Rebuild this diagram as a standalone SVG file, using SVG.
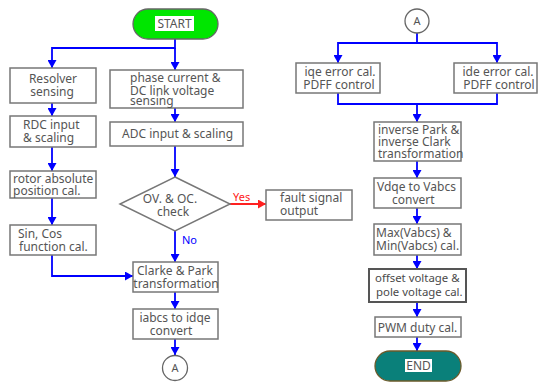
<svg xmlns="http://www.w3.org/2000/svg" width="538" height="382" viewBox="0 0 538 382">
<defs>
<style>
.box{fill:#fff;stroke:#777;stroke-width:1.5}
.t{font-family:"Noto Sans","Noto Sans CJK KR",sans-serif;font-size:12px;fill:#555}
.c{text-anchor:middle}
.ln{fill:none;stroke:#0000ff;stroke-width:1.8}
.red{fill:none;stroke:#ff2020;stroke-width:1.8}
</style>
<marker id="ab" markerWidth="8" markerHeight="9" refX="8" refY="4.5" orient="auto" markerUnits="userSpaceOnUse"><path d="M0,0 L8,4.5 L0,9 z" fill="#0000ff"/></marker>
<marker id="ar" markerWidth="8" markerHeight="9" refX="8" refY="4.5" orient="auto" markerUnits="userSpaceOnUse"><path d="M0,0 L8,4.5 L0,9 z" fill="#ff2020"/></marker>
</defs>
<rect width="538" height="382" fill="#fff"/>
<g id="connectors">
<path class="ln" d="M175,39 V48 H52 V68" marker-end="url(#ab)"/>
<path class="ln" d="M175,48 V70" marker-end="url(#ab)"/>
<path class="ln" d="M52,103 V116" marker-end="url(#ab)"/>
<path class="ln" d="M52,147 V171" marker-end="url(#ab)"/>
<path class="ln" d="M52,198 V225" marker-end="url(#ab)"/>
<path class="ln" d="M175,108 V122" marker-end="url(#ab)"/>
<path class="ln" d="M175,146 V177" marker-end="url(#ab)"/>
<path class="ln" d="M175,231 V262" marker-end="url(#ab)"/>
<path class="ln" d="M52,255 V276 H133" marker-end="url(#ab)"/>
<path class="ln" d="M175,292 V309" marker-end="url(#ab)"/>
<path class="ln" d="M175,339 V355" marker-end="url(#ab)"/>
<path class="red" d="M230,204 H266" marker-end="url(#ar)"/>
<text class="t" x="233" y="201" style="fill:#ff2020;font-size:11px">Yes</text>
<text class="t" x="182" y="244" style="fill:#0000ff;font-size:11px">No</text>
<path class="ln" d="M417,33 V43 H338 V63" marker-end="url(#ab)"/>
<path class="ln" d="M417,43 H497 V63" marker-end="url(#ab)"/>
<path class="ln" d="M338,93 V104 H497 V93"/>
<path class="ln" d="M417,104 V122" marker-end="url(#ab)"/>
<path class="ln" d="M417,161 V178" marker-end="url(#ab)"/>
<path class="ln" d="M417,208 V224" marker-end="url(#ab)"/>
<path class="ln" d="M417,255 V269" marker-end="url(#ab)"/>
<path class="ln" d="M417,302 V317" marker-end="url(#ab)"/>
<path class="ln" d="M417,337 V351" marker-end="url(#ab)"/>
</g>
<g id="start">
<rect x="133" y="9" width="85" height="30" rx="15" fill="#00e600" stroke="#666" stroke-width="1.3"/>
<rect x="155" y="16" width="39" height="15" fill="#fff"/>
<text class="t c" x="174.5" y="28">START</text>
</g>
<g id="resolver">
<rect class="box" x="10" y="68" width="86" height="35"/>
<text class="t c" x="53" y="83">Resolver</text>
<text class="t c" x="52" y="96">sensing</text>
</g>
<g id="rdc">
<rect class="box" x="10" y="116" width="86" height="31"/>
<text class="t" x="23" y="129">RDC input</text>
<text class="t" x="23" y="142">&amp; scaling</text>
</g>
<g id="rotor">
<rect class="box" x="10" y="171" width="86" height="27"/>
<text class="t" x="13" y="183">rotor absolute</text>
<text class="t" x="13" y="195">position cal.</text>
</g>
<g id="sincos">
<rect class="box" x="10" y="225" width="86" height="30"/>
<text class="t" x="18" y="238">Sin, Cos</text>
<text class="t" x="19" y="251">function cal.</text>
</g>
<g id="phase">
<rect class="box" x="110" y="70" width="133" height="38"/>
<text class="t" x="130" y="82">phase current &amp;</text>
<text class="t" x="130" y="95">DC link voltage</text>
<text class="t" x="130" y="104.5">sensing</text>
</g>
<g id="adc">
<rect class="box" x="110" y="122" width="133" height="24"/>
<text class="t" x="122" y="138">ADC input &amp; scaling</text>
</g>
<g id="check">
<polygon class="box" points="175,177 230,204 175,231 120,204"/>
<text class="t c" x="170" y="203">OV. &amp; OC.</text>
<text class="t c" x="173" y="216">check</text>
</g>
<g id="fault">
<rect class="box" x="266" y="190" width="86" height="30"/>
<text class="t" x="280" y="202">fault signal</text>
<text class="t" x="280" y="215">output</text>
</g>
<g id="clarke">
<rect class="box" x="133" y="262" width="85" height="30"/>
<text class="t c" x="175" y="275">Clarke &amp; Park</text>
<text class="t c" x="176" y="288">transformation</text>
</g>
<g id="iabcs">
<rect class="box" x="133" y="309" width="85" height="30"/>
<text class="t c" x="175" y="322">iabcs to idqe</text>
<text class="t c" x="171" y="335">convert</text>
</g>
<g id="a-left">
<circle cx="175" cy="368" r="12.5" fill="#fff" stroke="#666" stroke-width="1.3"/>
<text class="t c" x="175" y="372" style="font-size:11px">A</text>
</g>
<g id="a-right">
<circle cx="417" cy="21" r="12" fill="#fff" stroke="#666" stroke-width="1.3"/>
<text class="t c" x="417" y="25" style="font-size:11px">A</text>
</g>
<g id="iqe">
<rect class="box" x="296" y="63" width="84" height="30"/>
<text class="t c" x="340" y="76">iqe error cal.</text>
<text class="t c" x="339" y="89">PDFF control</text>
</g>
<g id="ide">
<rect class="box" x="454" y="63" width="83" height="30"/>
<text class="t c" x="498" y="76">ide error cal.</text>
<text class="t c" x="499" y="89">PDFF control</text>
</g>
<g id="invpark">
<rect class="box" x="374" y="122" width="87" height="39"/>
<text class="t" x="378" y="134">inverse Park &amp;</text>
<text class="t" x="378" y="146">inverse Clark</text>
<text class="t" x="378" y="158">transformation</text>
</g>
<g id="vdqe">
<rect class="box" x="374" y="178" width="87" height="30"/>
<text class="t" x="377" y="191">Vdqe to Vabcs</text>
<text class="t" x="392" y="204">convert</text>
</g>
<g id="maxmin">
<rect class="box" x="374" y="224" width="87" height="31"/>
<text class="t" x="376" y="237">Max(Vabcs) &amp;</text>
<text class="t" x="376" y="250">Min(Vabcs) cal.</text>
</g>
<g id="offset">
<rect class="box" x="369" y="269" width="97" height="33" style="stroke:#555;stroke-width:2"/>
<text class="t" x="375" y="282" style="font-size:11.4px;fill:#4a4a4a">offset voltage &amp;</text>
<text class="t" x="376" y="296" style="font-size:11.4px;fill:#4a4a4a">pole voltage cal.</text>
</g>
<g id="pwm">
<rect class="box" x="375" y="317" width="86" height="20"/>
<text class="t c" x="417.5" y="331.5">PWM duty cal.</text>
</g>
<g id="end">
<rect x="375" y="351" width="86" height="30" rx="15" fill="#0a807a" stroke="#6b5a2a" stroke-width="1.3"/>
<rect x="405" y="359" width="27" height="13" fill="#fff"/>
<text class="t c" x="418.5" y="370">END</text>
</g>
</svg>
